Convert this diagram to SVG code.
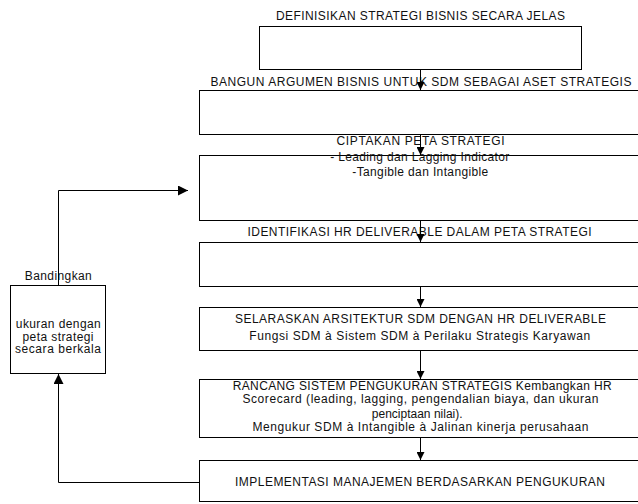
<svg xmlns="http://www.w3.org/2000/svg" width="638" height="504" viewBox="0 0 638 504">
<style>
.box{fill:#fff;stroke:#000;stroke-width:1}
.t{font-family:"Liberation Sans",Arial,sans-serif;font-size:12px;fill:#111;text-anchor:middle}
.c{fill:none;stroke:#000;stroke-width:1}
</style>
<defs>
<marker id="ah" viewBox="0 0 10 10" refX="10" refY="5" markerWidth="8" markerHeight="8" markerUnits="userSpaceOnUse" orient="auto">
<path d="M0,0 L10,5 L0,10 z" fill="#000"/>
</marker>
<marker id="ahL" viewBox="0 0 10 10" refX="10" refY="5" markerWidth="12" markerHeight="10" markerUnits="userSpaceOnUse" orient="auto">
<path d="M0,0 L10,5 L0,10 z" fill="#000"/>
</marker>
</defs>
<rect width="638" height="504" fill="#fff"/>
<g id="n1">
<rect class="box" x="259.5" y="26.5" width="322" height="43"/>
<text class="t" x="420.5" y="20" textLength="289" lengthAdjust="spacing">DEFINISIKAN STRATEGI  BISNIS SECARA JELAS</text>
</g>
<g id="n2">
<rect class="box" x="199.5" y="90.5" width="442" height="44"/>
<text class="t" x="421" y="85.5" textLength="421" lengthAdjust="spacing">BANGUN ARGUMEN BISNIS UNTUK SDM SEBAGAI ASET STRATEGIS</text>
</g>
<g id="n3">
<rect class="box" x="199.5" y="155.5" width="442" height="65"/>
<text class="t" x="420.5" y="145" textLength="168" lengthAdjust="spacing">CIPTAKAN  PETA STRATEGI</text>
<text class="t" x="419.7" y="161" textLength="179" lengthAdjust="spacing">- Leading dan Lagging Indicator</text>
<text class="t" x="420.3" y="175.5" textLength="136" lengthAdjust="spacing">-Tangible dan Intangible</text>
</g>
<g id="n4">
<rect class="box" x="199.5" y="242.5" width="442" height="44"/>
<text class="t" x="419.5" y="236" textLength="344" lengthAdjust="spacing">IDENTIFIKASI HR DELIVERABLE DALAM PETA STRATEGI</text>
</g>
<g id="n5">
<rect class="box" x="199.5" y="307.5" width="442" height="43"/>
<text class="t" x="420.5" y="323" textLength="371" lengthAdjust="spacing">SELARASKAN ARSITEKTUR SDM DENGAN HR DELIVERABLE</text>
<text class="t" x="419.7" y="339.5" textLength="341" lengthAdjust="spacing">Fungsi SDM à Sistem SDM à Perilaku Strategis Karyawan</text>
</g>
<g id="n6">
<rect class="box" x="199.5" y="379.5" width="442" height="58"/>
<text class="t" x="422.2" y="389.5" textLength="379" lengthAdjust="spacing">RANCANG  SISTEM  PENGUKURAN STRATEGIS Kembangkan HR</text>
<text class="t" x="420.5" y="403" textLength="356" lengthAdjust="spacing">Scorecard (leading, lagging, pengendalian biaya, dan ukuran</text>
<text class="t" x="417.2" y="417.5">penciptaan nilai).</text>
<text class="t" x="420.5" y="431" textLength="336" lengthAdjust="spacing">Mengukur SDM à Intangible à Jalinan kinerja perusahaan</text>
</g>
<g id="n7">
<rect class="box" x="199.5" y="460.5" width="442" height="41"/>
<text class="t" x="420" y="486" textLength="370" lengthAdjust="spacing">IMPLEMENTASI MANAJEMEN BERDASARKAN PENGUKURAN</text>
</g>
<g id="n8">
<rect class="box" x="10.5" y="285.5" width="95" height="88"/>
<text class="t" x="58.3" y="280" textLength="67" lengthAdjust="spacing">Bandingkan</text>
<text class="t" x="58.3" y="328" textLength="85" lengthAdjust="spacing">ukuran dengan</text>
<text class="t" x="58" y="340.5" textLength="71" lengthAdjust="spacing">peta strategi</text>
<text class="t" x="58" y="353" textLength="86" lengthAdjust="spacing">secara berkala</text>
</g>
<g id="connectors">
<line class="c" x1="420.5" y1="70" x2="420.5" y2="90" marker-end="url(#ah)"/>
<line class="c" x1="420.5" y1="135" x2="420.5" y2="155" marker-end="url(#ah)"/>
<line class="c" x1="420.5" y1="221" x2="420.5" y2="242" marker-end="url(#ah)"/>
<line class="c" x1="420.5" y1="287" x2="420.5" y2="307" marker-end="url(#ah)"/>
<line class="c" x1="420.5" y1="351" x2="420.5" y2="379" marker-end="url(#ah)"/>
<line class="c" x1="420.5" y1="438" x2="420.5" y2="460" marker-end="url(#ah)"/>
<polyline class="c" points="58.5,285 58.5,190.5 188,190.5" marker-end="url(#ahL)"/>
<polyline class="c" points="199,482.5 58.5,482.5 58.5,374" marker-end="url(#ahL)"/>
</g>
</svg>
